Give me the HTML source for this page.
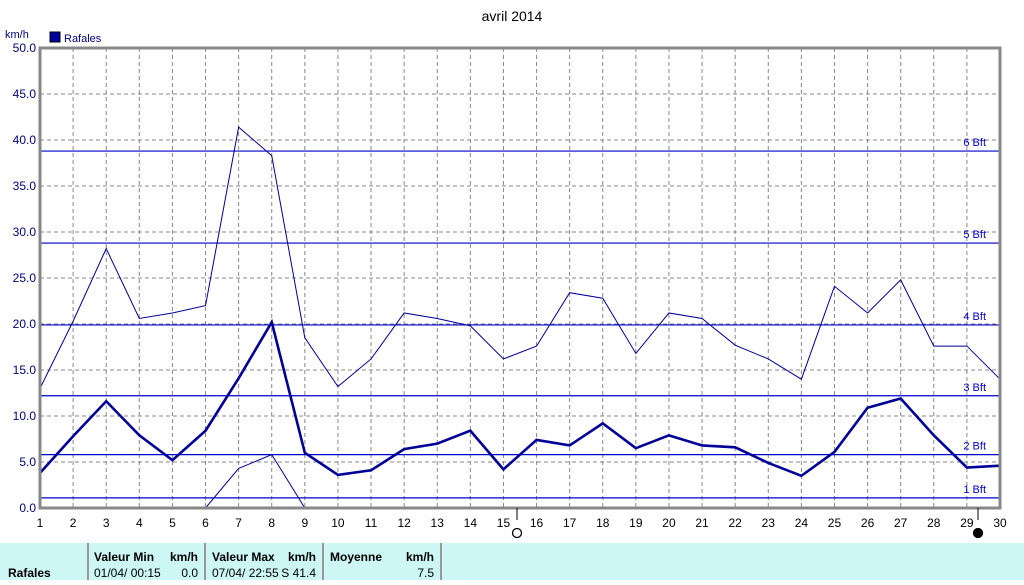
<!DOCTYPE html>
<html><head><meta charset="utf-8"><style>
body{margin:0;background:#fff;font-family:"Liberation Sans",sans-serif;}
svg text{font-family:"Liberation Sans",sans-serif;}
</style></head><body>
<svg id="c" width="1024" height="580" xmlns="http://www.w3.org/2000/svg">
<text x="512" y="21" font-size="14" text-anchor="middle">avril 2014</text>
<text x="5" y="38" font-size="11" fill="#000080">km/h</text>
<rect x="50" y="32" width="10" height="10" fill="#0000a0" stroke="#000"/>
<text x="64" y="42" font-size="11" fill="#000080">Rafales</text>
<g id="grid"></g><g id="bft"></g><g id="series"></g><g id="axes"></g>
<g>
<rect x="0" y="543" width="1024" height="37" fill="#ccf7f5"/>
<line x1="88" y1="543" x2="88" y2="580" stroke="#999" stroke-width="2"/>
<line x1="205" y1="543" x2="205" y2="580" stroke="#999" stroke-width="2"/>
<line x1="323" y1="543" x2="323" y2="580" stroke="#999" stroke-width="2"/>
<line x1="441" y1="543" x2="441" y2="580" stroke="#999" stroke-width="2"/>
<g font-size="12" font-weight="bold">
<text x="8" y="577">Rafales</text>
<text x="94" y="561">Valeur Min</text><text x="198" y="561" text-anchor="end">km/h</text>
<text x="212" y="561">Valeur Max</text><text x="316" y="561" text-anchor="end">km/h</text>
<text x="330" y="561">Moyenne</text><text x="434" y="561" text-anchor="end">km/h</text>
</g>
<g font-size="12">
<text x="94" y="577">01/04/  00:15</text><text x="198" y="577" text-anchor="end">0.0</text>
<text x="212" y="577">07/04/  22:55</text><text x="316" y="577" text-anchor="end">S 41.4</text>
<text x="434" y="577" text-anchor="end">7.5</text>
</g></g>
</svg>
<script>
const days=[1,2,3,4,5,6,7,8,9,10,11,12,13,14,15,16,17,18,19,20,21,22,23,24,25,26,27,28,29,30];
const maxVals=[13,20.3,28.2,20.6,21.2,22,41.4,38.3,18.5,13.2,16.2,21.2,20.6,19.8,16.2,17.6,23.4,22.8,16.8,21.2,20.6,17.7,16.2,14,24.1,21.2,24.8,17.6,17.6,14];
const avgVals=[3.8,7.8,11.6,7.9,5.2,8.4,14.1,20.2,6,3.6,4.1,6.4,7,8.4,4.2,7.4,6.8,9.2,6.5,7.9,6.8,6.6,4.9,3.5,6.1,10.9,11.9,7.9,4.4,4.6];
const minVals=[0,0,0,0,0,0,4.3,5.8,0,0,0,0,0,0,0,0,0,0,0,0,0,0,0,0,0,0,0,0,0,0];
const yTicks=[0,5,10,15,20,25,30,35,40,45,50];
const bftLabels=["1 Bft","2 Bft","3 Bft","4 Bft","5 Bft","6 Bft"];
const bftVals=[1.1,5.8,12.2,19.9,28.8,38.8];
const X0=40,X1=1000,Y0=508,Y1=48;
const xs=d=>X0+(d-1)*(X1-X0)/29;
const ys=v=>Y0-v*(Y0-Y1)/50;
const NS="http://www.w3.org/2000/svg";
function mk(t,p,a){const e=document.createElementNS(NS,t);for(const k in a)e.setAttribute(k,a[k]);p.appendChild(e);return e;}
const grid=document.getElementById('grid'),bft=document.getElementById('bft'),ser=document.getElementById('series'),ax=document.getElementById('axes');
yTicks.forEach(v=>{
 const l=mk('line',grid,{x1:X0,x2:X1,y1:ys(v),y2:ys(v),stroke:'#888','stroke-dasharray':'4,3'});
 
 
 const t=mk('text',ax,{x:36,y:ys(v)+4,'font-size':12,fill:'#000080','text-anchor':'end'});t.textContent=v.toFixed(1);
 
 
});
days.forEach(d=>{
 const l=mk('line',grid,{x1:xs(d),x2:xs(d),y1:Y1,y2:Y0,stroke:'#888','stroke-dasharray':'4,3'});
 
 
 const t=mk('text',ax,{x:xs(d),y:527,'font-size':12,'text-anchor':'middle'});t.textContent=d;
 
 
});
bftVals.forEach((v,i)=>{
 const l=mk('line',bft,{x1:X0,x2:X1,y1:ys(v),y2:ys(v),stroke:'#0000cc','stroke-width':1.2});
 
 
 const t=mk('text',bft,{x:986,y:ys(v)-5,'font-size':11,fill:'#0000cc','text-anchor':'end'});t.textContent=bftLabels[i];
 
 
});
function line(vals,w,name){
 const p=mk('polyline',ser,{points:vals.map((v,i)=>xs(days[i])+','+ys(v)).join(' '),fill:'none',stroke:'#000099','stroke-width':w});
 
 
}
line(minVals,1,'min-gust-line');
line(maxVals,1,'max-gust-line');
line(avgVals,2.6,'avg-gust-line');
const fr=mk('path',ax,{d:`M${X0} ${Y1}H${X1}V${Y0}H${X0}Z`,fill:'none',stroke:'#888','stroke-width':3});


[[517,false],[978,true]].forEach(([x,f])=>{
 mk('line',ax,{x1:x,x2:x,y1:508,y2:520,stroke:'#000'});
 const c=mk('circle',ax,{cx:x,cy:533,r:4.5,fill:f?'#000':'#fff',stroke:'#000','stroke-width':1.3});
 
 
});
</script>
</body></html>
